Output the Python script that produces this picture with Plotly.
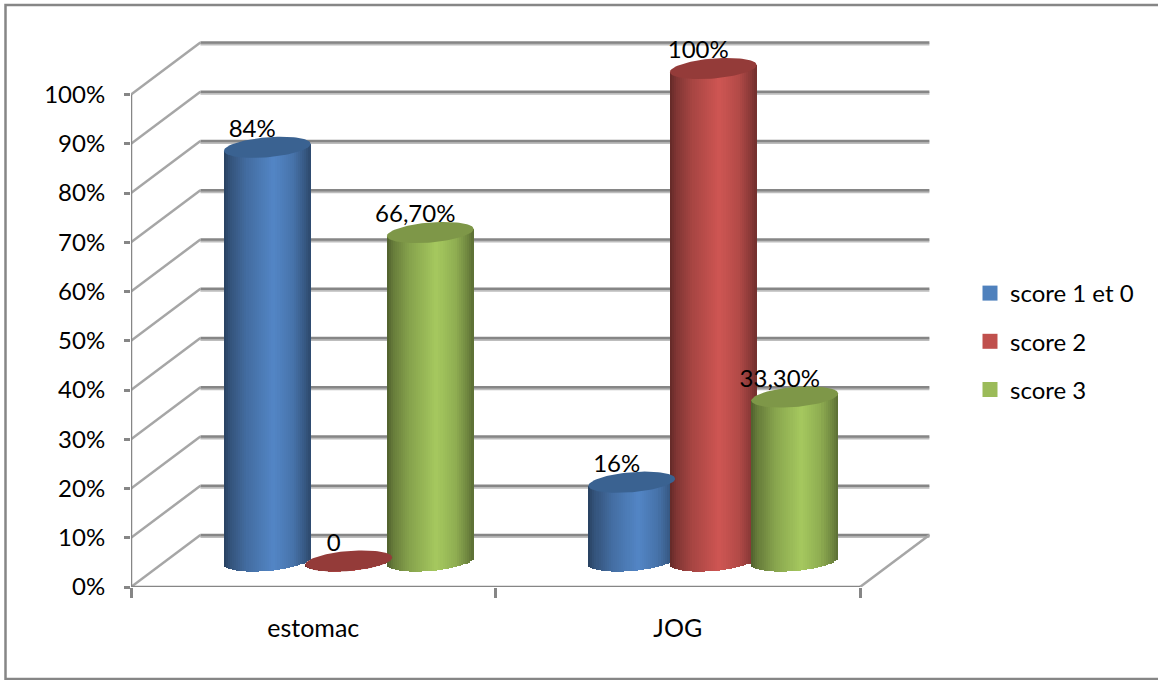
import numpy as np
import plotly.graph_objects as go

# Chart data
categories = ["estomac", "JOG"]
series_names = ["score 1 et 0", "score 2", "score 3"]
score_1_0 = [84, 16]
score_2 = [0, 100]
score_3 = [66.7, 33.3]
score_1_0_labels = ["84%", "16%"]
score_2_labels = ["0", "100%"]
score_3_labels = ["66,70%", "33,30%"]
y_ticks = [0, 10, 20, 30, 40, 50, 60, 70, 80, 90, 100]
y_tick_text = ["0%", "10%", "20%", "30%", "40%", "50%", "60%", "70%", "80%", "90%", "100%"]

series_values = [score_1_0, score_2, score_3]
series_labels = [score_1_0_labels, score_2_labels, score_3_labels]
face_colors = ["#5386C6", "#CF5653", "#A6C95F"]
top_colors = ["#3A6291", "#943B39", "#7E9748"]
legend_colors = ["#4F81BD", "#C0504D", "#9BBB59"]

# Canvas and scale
W, H = 1158, 680
LEFT, RIGHT_EDGE, TOP, BOTTOM = 131, 931, 40, 587
PX_PER_CAT = 364.5
PX_PER_PCT = 4.925
FONT = "Lato"
FS = 24
GRID = "#868686"
GRID_SOFT = "#BDBDBD"

# Oblique projection: the back wall sits two depth units behind the front axis
DEPTH_X = 34.7 / PX_PER_CAT
DEPTH_Y = 26.0 / PX_PER_PCT
BAR_SHIFT = 0.8 / PX_PER_CAT
BAR_STEP = 81.5 / PX_PER_CAT
RX = 43.4 / PX_PER_CAT
RY = 10.0 / PX_PER_PCT
TILT = 3.5 / PX_PER_PCT
N_STRIPS = 42

x_max = (RIGHT_EDGE - LEFT) / PX_PER_CAT
y_max = (BOTTOM - TOP) / PX_PER_PCT
back_dx, back_dy = 2 * DEPTH_X, 2 * DEPTH_Y
wall_right = 2 + back_dx


def shade(color, k):
    r, g, b = int(color[1:3], 16), int(color[3:5], 16), int(color[5:7], 16)
    return "rgb(%d,%d,%d)" % (r * k, g * k, b * k)


def strip_factor(u):
    # Horizontal lighting across the cylinder face
    return float(np.interp(u, [-1, -0.85, -0.45, 0.15, 0.6, 0.88, 1],
                           [0.48, 0.62, 0.82, 1.0, 0.86, 0.66, 0.55]))


def bar_center(c, s):
    return c + 0.5 + DEPTH_X + BAR_SHIFT + (s - 1) * BAR_STEP


fig = go.Figure()

# Gridlines on the left wall and back wall, kept beneath every trace
shapes = []
for v in y_ticks:
    for off, col, w in ((-0.36, GRID_SOFT, 2.5), (0, GRID, 2.5)):
        shapes.append(dict(type="line", layer="below", xref="x", yref="y",
                           x0=back_dx, x1=wall_right,
                           y0=v + back_dy + off, y1=v + back_dy + off,
                           line=dict(color=col, width=w)))
    shapes.append(dict(type="line", layer="below", xref="x", yref="y",
                       x0=0, x1=back_dx, y0=v, y1=v + back_dy,
                       line=dict(color="#A6A6A6", width=2.5)))
# Right edge of the floor
shapes.append(dict(type="line", layer="below", xref="x", yref="y",
                   x0=2, x1=wall_right, y0=0, y1=back_dy,
                   line=dict(color="#A6A6A6", width=2.5)))
# Outer frame, open past the right side of the page
shapes.append(dict(type="rect", layer="below", xref="paper", yref="paper",
                   x0=(5.5 - LEFT) / (RIGHT_EDGE - LEFT), x1=(1180 - LEFT) / (RIGHT_EDGE - LEFT),
                   y0=(BOTTOM - 679) / (BOTTOM - TOP), y1=(BOTTOM - 5) / (BOTTOM - TOP),
                   line=dict(color=GRID, width=2.5), fillcolor="rgba(0,0,0,0)"))

# Cylinder bodies: each one is a run of narrow shaded bars
u_edges = np.linspace(-1, 1, N_STRIPS + 1)
u_mid = (u_edges[:-1] + u_edges[1:]) / 2
for c in range(len(categories)):
    for s in range(len(series_names)):
        v = series_values[s][c]
        cx = bar_center(c, s)
        curve = RY * np.sqrt(1 - u_mid ** 2)
        base = DEPTH_Y + TILT * u_mid - curve
        fig.add_trace(go.Bar(
            x=cx + RX * u_mid,
            y=v + curve,
            base=base,
            width=2.3 * RX / N_STRIPS,
            marker=dict(color=[shade(face_colors[s], strip_factor(u)) for u in u_mid],
                        line=dict(width=0)),
            showlegend=False, hoverinfo="skip"))

# Cylinder caps
t = np.linspace(0, 2 * np.pi, 90)
for c in range(len(categories)):
    for s in range(len(series_names)):
        v = series_values[s][c]
        cx = bar_center(c, s)
        fig.add_trace(go.Scatter(
            x=cx + RX * np.cos(t),
            y=v + DEPTH_Y + RY * np.sin(t) + TILT * np.cos(t),
            mode="lines", fill="toself", fillcolor=top_colors[s],
            line=dict(width=0, color=top_colors[s]),
            showlegend=False, hoverinfo="skip"))

# Front axis lines
fig.add_trace(go.Scatter(x=[0, 0, 2], y=[100, 0, 0], mode="lines", cliponaxis=False,
                         line=dict(color=GRID, width=2.5),
                         showlegend=False, hoverinfo="skip"))

# Value labels
for c in range(len(categories)):
    for s in range(len(series_names)):
        v = series_values[s][c]
        cx = bar_center(c, s)
        fig.add_trace(go.Scatter(
            x=[cx - 15 / PX_PER_CAT], y=[v + DEPTH_Y + 16.5 / PX_PER_PCT],
            mode="text", text=[series_labels[s][c]], textposition="middle center",
            textfont=dict(family=FONT, size=FS, color="#000000"),
            cliponaxis=False, showlegend=False, hoverinfo="skip"))

# Legend entries
for s, name in enumerate(series_names):
    fig.add_trace(go.Scatter(
        x=[None], y=[None], mode="markers", name=name, legendgroup=name,
        marker=dict(symbol="square", size=15, color=legend_colors[s])))

fig.update_layout(
    width=W, height=H,
    margin=dict(l=LEFT, r=W - RIGHT_EDGE, t=TOP, b=H - BOTTOM, pad=0, autoexpand=False),
    paper_bgcolor="#FFFFFF", plot_bgcolor="rgba(0,0,0,0)",
    barmode="overlay", bargap=0,
    shapes=shapes,
    font=dict(family=FONT, size=FS, color="#000000"),
    legend=dict(x=(970 - LEFT) / (RIGHT_EDGE - LEFT), y=(BOTTOM - 271) / (BOTTOM - TOP),
                xanchor="left", yanchor="top", tracegroupgap=14,
                font=dict(family=FONT, size=FS), bgcolor="rgba(0,0,0,0)",
                itemsizing="trace"),
    xaxis=dict(range=[0, x_max], showgrid=False, zeroline=False, showline=False,
               tickmode="array", tickvals=[0.5, 1.5], ticktext=categories,
               ticks="outside", ticklen=19, tickcolor="rgba(0,0,0,0)",
               minor=dict(tickmode="array", tickvals=[0, 1, 2], ticks="outside",
                          ticklen=10, tickwidth=2.5, tickcolor=GRID),
               tickfont=dict(family=FONT, size=25)),
    yaxis=dict(range=[0, y_max], showgrid=False, zeroline=False, showline=False,
               tickmode="array", tickvals=y_ticks, ticktext=y_tick_text,
               ticks="outside", ticklen=6, tickwidth=2.5, tickcolor=GRID,
               ticklabelstandoff=14, tickfont=dict(family=FONT, size=FS)),
)

fig.write_html("out.html", config=dict(displayModeBar=False))
